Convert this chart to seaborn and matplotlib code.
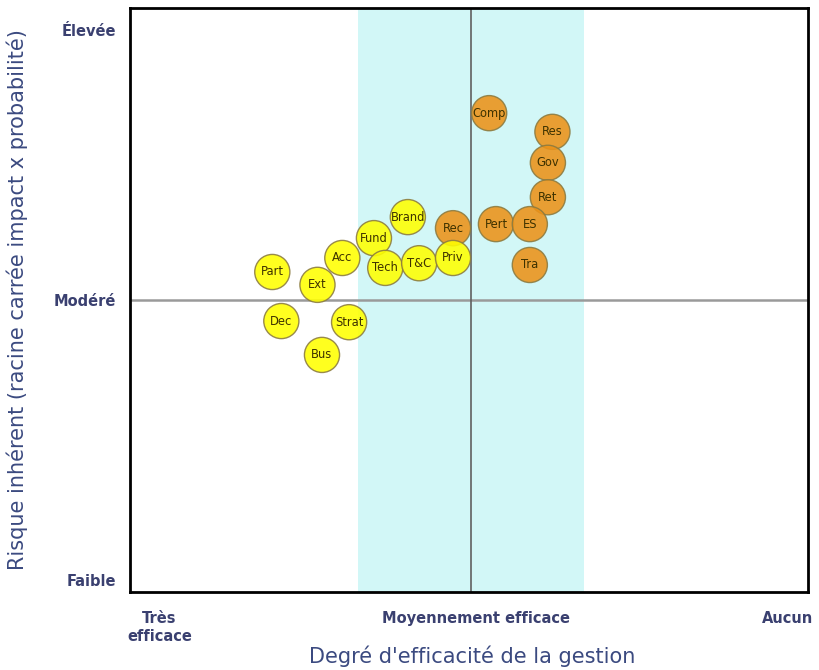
import matplotlib
matplotlib.use("Agg")
import matplotlib.pyplot as plt
import seaborn as sns
import pandas as pd

# ---- data ----
labels = ["Comp", "Res", "Gov", "Ret", "Rec", "Pert", "ES", "Tra",
          "Part", "Ext", "Acc", "Dec", "Strat", "Bus",
          "Fund", "Brand", "Tech", "T&C", "Priv"]
x_vals = [1.59, 1.87, 1.85, 1.85, 1.43, 1.62, 1.77, 1.77,
          0.63, 0.83, 0.94, 0.67, 0.97, 0.85,
          1.08, 1.23, 1.13, 1.28, 1.43]
y_vals = [8.20, 7.88, 7.35, 6.76, 6.23, 6.30, 6.30, 5.60,
          5.48, 5.26, 5.72, 4.64, 4.62, 4.06,
          6.06, 6.42, 5.55, 5.63, 5.72]
groups = ["Élevé"] * 8 + ["Modéré"] * 11

xtick_pos = [0.13, 1.53, 2.91]
xtick_labels = ["Très\nefficace", "Moyennement efficace", "Aucun"]
ytick_pos = [0.21, 5.0, 9.62]
ytick_labels = ["Faible", "Modéré", "Élevée"]

df = pd.DataFrame({"label": labels, "x": x_vals, "y": y_vals, "group": groups})

sns.set_style("white")
plt.rcParams["font.family"] = ["DejaVu Sans"]

fig = plt.figure(figsize=(8.2, 6.7), dpi=100)
ax = fig.add_axes([0.1585, 0.1164, 0.8265, 0.8716])

ax.axvspan(1.01, 2.01, color="#d2f7f7", zorder=0, lw=0)
ax.axhline(5.0, color="#9a9a9a", lw=1.8, zorder=1)
ax.axvline(1.51, color="#606060", lw=1.2, zorder=1)

sns.scatterplot(data=df, x="x", y="y", hue="group",
                palette={"Élevé": "#ec9218", "Modéré": "#ffff00"},
                s=640, edgecolor="#8a7a40", linewidth=1.0, alpha=0.88,
                legend=False, ax=ax, zorder=3)

for lab, xv, yv in zip(labels, x_vals, y_vals):
    ax.text(xv, yv, lab, ha="center", va="center", fontsize=8.3,
            color="#3e3200", zorder=4)

ax.set_xlim(0, 3)
ax.set_ylim(0, 10)
ax.set_xticks(xtick_pos)
ax.set_xticklabels(xtick_labels, fontsize=10.5, fontweight="bold", color="#3a4070")
ax.set_yticks(ytick_pos)
ax.set_yticklabels(ytick_labels, fontsize=10.5, fontweight="bold", color="#3a4070")
ax.tick_params(axis="x", length=0, pad=14)
ax.tick_params(axis="y", length=0, pad=10)

ax.set_xlabel("Degré d'efficacité de la gestion", fontsize=15, color="#3b4a80")
ax.set_ylabel("Risque inhérent (racine carrée impact x probabilité)", fontsize=15,
              color="#3b4a80")
ax.xaxis.set_label_coords(0.5 + (472 - 469) / 678, -0.092)
ax.yaxis.set_label_coords(-0.150, 0.5)

for sp in ax.spines.values():
    sp.set_visible(True)
    sp.set_color("black")
    sp.set_linewidth(2)

fig.savefig("out.png", dpi=100)
